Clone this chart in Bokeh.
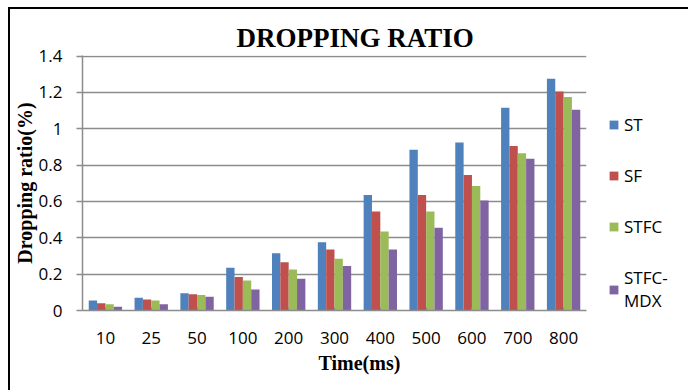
from bokeh.plotting import figure
from bokeh.models import ColumnDataSource, FactorRange, Range1d, FixedTicker, Legend, LegendItem, Title
from bokeh.transform import dodge
from bokeh.embed import file_html
from bokeh.resources import INLINE

categories = ["10", "25", "50", "100", "200", "300", "400", "500", "600", "700", "800"]
st = [0.055, 0.07, 0.095, 0.235, 0.315, 0.375, 0.635, 0.885, 0.925, 1.115, 1.275]
sf = [0.04, 0.06, 0.09, 0.185, 0.265, 0.335, 0.545, 0.635, 0.745, 0.905, 1.205]
stfc = [0.035, 0.055, 0.085, 0.165, 0.225, 0.285, 0.435, 0.545, 0.685, 0.865, 1.175]
stfc_mdx = [0.02, 0.035, 0.075, 0.115, 0.175, 0.245, 0.335, 0.455, 0.605, 0.835, 1.105]
series_names = ["ST", "SF", "STFC", "STFC-\nMDX"]
series_colors = ["#4F81BD", "#C0504D", "#9BBB59", "#8064A2"]
y_ticks = [0, 0.2, 0.4, 0.6, 0.8, 1.0, 1.2, 1.4]
y_tick_labels = ["0", "0.2", "0.4", "0.6", "0.8", "1", "1.2", "1.4"]

source = ColumnDataSource(dict(cat=categories, st=st, sf=sf, stfc=stfc, mdx=stfc_mdx))

p = figure(
    frame_width=504, frame_height=255,
    x_range=FactorRange(factors=categories, range_padding=0),
    y_range=Range1d(0, 1.403),
    output_backend="svg", toolbar_location=None,
    min_border_left=72, min_border_right=102, min_border_top=46, min_border_bottom=80,
    margin=(7, 0, 0, 8),
    styles={"border-top": "2px solid black", "border-left": "2px solid black",
            "border-right": "none", "border-bottom": "none"},
)
p.outline_line_color = None

bar_w = 0.182
offsets = [-0.273, -0.091, 0.091, 0.273]
fields = ["st", "sf", "stfc", "mdx"]
renderers = []
for f, off, c in zip(fields, offsets, series_colors):
    r = p.vbar(x=dodge("cat", off, range=p.x_range), top=f, width=bar_w, source=source,
               fill_color=c, line_color=None)
    renderers.append(r)

# title
p.title = Title(text="DROPPING RATIO", align="left", offset=154,
                text_font="Liberation Serif", text_font_size="27px", text_font_style="bold",
                text_color="black", standoff=5)

# axes
grid_col = "#8c8c8c"
p.yaxis.ticker = FixedTicker(ticks=y_ticks)
p.yaxis.major_label_overrides = dict(zip(y_ticks, y_tick_labels))
p.yaxis.axis_line_color = grid_col
p.yaxis.axis_line_width = 1.5
p.yaxis.major_tick_line_color = grid_col
p.yaxis.major_tick_line_width = 1.5
p.yaxis.major_tick_out = 6
p.yaxis.major_tick_in = 0
p.yaxis.minor_tick_line_color = None
p.yaxis.major_label_standoff = 14
p.yaxis.major_label_text_font = "Open Sans"
p.yaxis.major_label_text_font_size = "17px"
p.yaxis.major_label_text_color = "black"
p.yaxis.axis_label = "Dropping ratio(%)"
p.yaxis.axis_label_text_font = "Liberation Serif"
p.yaxis.axis_label_text_font_size = "20px"
p.yaxis.axis_label_text_font_style = "bold"
p.yaxis.axis_label_text_color = "black"
p.yaxis.axis_label_standoff = 0

p.xaxis.axis_line_color = grid_col
p.xaxis.axis_line_width = 1.5
p.xaxis.major_tick_line_color = grid_col
p.xaxis.major_tick_out = 0
p.xaxis.major_tick_in = 3
p.xaxis.major_label_standoff = 21
p.xaxis.major_label_text_font = "Open Sans"
p.xaxis.major_label_text_font_size = "17px"
p.xaxis.major_label_text_color = "black"

p.add_layout(Title(text="Time(ms)", align="left", offset=236,
                   text_font="Liberation Serif", text_font_size="20px", text_font_style="bold",
                   text_color="black", standoff=7), "below")

p.xgrid.grid_line_color = None
p.ygrid.grid_line_color = grid_col
p.ygrid.grid_line_width = 1.5
p.ygrid.ticker = FixedTicker(ticks=y_ticks)

legend = Legend(items=[LegendItem(label=n, renderers=[r]) for n, r in zip(series_names, renderers)],
                location=(22, -2), orientation="vertical", margin=0,
                glyph_width=11, glyph_height=11, label_height=18, spacing=28,
                label_text_font="Open Sans", label_text_font_size="17px", label_text_color="black",
                label_standoff=5, padding=0, border_line_color=None, background_fill_alpha=0)
p.add_layout(legend, "right")

open("out.html", "w").write(file_html(p, INLINE))
